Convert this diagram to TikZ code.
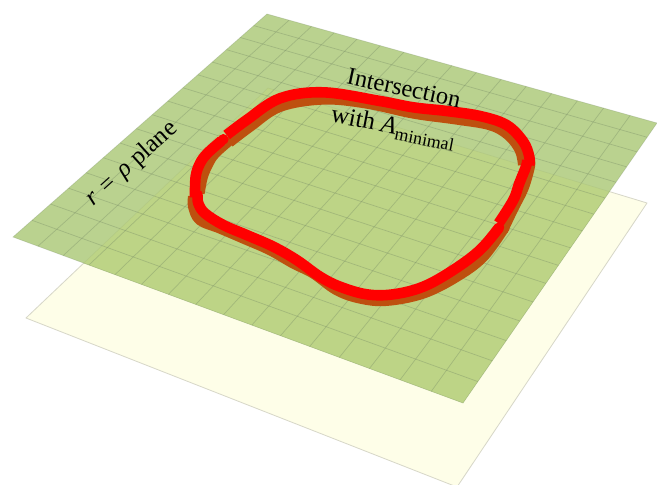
\documentclass[tikz,border=0pt]{standalone}
\usepackage{fontspec}
\setmainfont{Liberation Serif}
\definecolor{yellowplane}{RGB}{254,254,232}
\definecolor{yellowedge}{RGB}{215,215,200}
\definecolor{greenplane}{RGB}{186,210,143}
\definecolor{greenover}{RGB}{189,212,134}
\definecolor{gridline}{RGB}{125,145,105}
\definecolor{tubered}{RGB}{255,0,0}
\definecolor{tubebrown}{RGB}{190,80,15}
\pgfmathdeclarefunction{hx}{2}{\pgfmathparse{(324.84*#1-256.29*#2+267)/(-0.09918*#1-0.17609*#2+1)}}
\pgfmathdeclarefunction{hy}{2}{\pgfmathparse{(96.80*#1+181.27*#2+14)/(-0.09918*#1-0.17609*#2+1)}}
\tikzset{
  gridrule/.style={draw=gridline,line width=0.7pt,opacity=0.42},
  brownband/.style={draw=tubebrown,line width=10.6pt,line cap=butt,line join=round,smooth,tension=0.6},
  redband/.style={draw=tubered,line width=10.6pt,line cap=butt,line join=round,smooth,tension=0.6},
  redroundband/.style={redband,line cap=round},
  label/.style={inner sep=0pt,text=black}
}
\begin{document}
\begin{tikzpicture}[x=1pt,y=-1pt]
\useasboundingbox (0,0) rectangle (657,485);
\begin{scope}
\clip (0,0) rectangle (657,485);
\fill[white] (0,0) rectangle (657,485);
\filldraw[fill=yellowplane,draw=yellowedge,line width=0.8pt,line join=round]
  (268,88) -- (647,203) -- (457,487) -- (26,318) -- cycle;
\fill[greenplane] (267,14) -- (657,123) -- (463,403) -- (13,237) -- cycle;
\begin{scope}
\clip (267,14) -- (657,123) -- (463,403) -- (13,237) -- cycle;
\filldraw[fill=greenover,draw=gridline,draw opacity=0.12,line width=0.7pt]
  (268,88) -- (647,203) -- (457,487) -- (26,318) -- cycle;
\end{scope}
\foreach \i in {1,...,15}{
  \pgfmathsetmacro{\u}{\i/16}
  \draw[gridrule] ({hx(\u,0)},{hy(\u,0)}) -- ({hx(\u,1)},{hy(\u,1)});
  \draw[gridrule] ({hx(0,\u)},{hy(0,\u)}) -- ({hx(1,\u)},{hy(1,\u)});
}
\draw[gridrule,opacity=0.3] (267,14) -- (657,123) -- (463,403) -- (13,237) -- cycle;
\end{scope}
\begin{scope}[shift={(180,60)},x=0.3333pt,y=-0.3333pt]
\draw[brownband] plot coordinates {(148,247) (210,200) (300,140) (430,118) (560,130) (700,160) (830,178) (930,195) (985,225) (1020,270) (1030,315)};
\draw[brownband] plot coordinates {(1050,305) (1048,325) (1030,385) (1000,445) (968,512)};
\draw[brownband] plot coordinates {(975,500) (910,590) (830,650) (730,700) (620,722) (540,715) (470,690) (400,640) (340,610) (270,570) (190,535) (120,505) (60,480) (40,440) (40,410)};
\draw[brownband] plot coordinates {(58,400) (68,350) (85,310) (105,280) (150,240)};
\draw[redband] plot coordinates {(1042,300) (1038,320) (1018,370) (1000,420) (956,490)};
\draw[redband] plot coordinates {(140,225) (200,180) (300,115) (430,97) (600,123) (700,142) (800,153) (900,168) (980,195) (1030,245) (1048,290) (1048,315)};
\draw[redroundband] plot coordinates {(957,503) (900,570) (820,630) (730,680) (640,703) (560,703) (480,680) (420,650) (350,600) (280,560) (200,525) (130,495) (75,460) (55,430) (53,405)};
\draw[redband] plot coordinates {(45,412) (47,350) (60,310) (82,280) (125,242)};
\fill[tubered] (130,238) circle (16);
\end{scope}
\node[label,font=\fontsize{24.5}{26}\selectfont,rotate=-12] (intersection) at (404,88) {Intersection};
\node[label,font=\fontsize{25}{27}\selectfont,rotate=-11] (withmin) at (393,128) {with \textit{A}\raisebox{-0.22em}{\fontsize{18}{18}\selectfont minimal}};
\node[label,font=\fontsize{25}{27}\selectfont,rotate=42] (planelabel) at (132,164) {\textit{r}\hspace{0.1em} = \hspace{0.1em}\textit{ρ} plane};
\end{tikzpicture}
\end{document}
